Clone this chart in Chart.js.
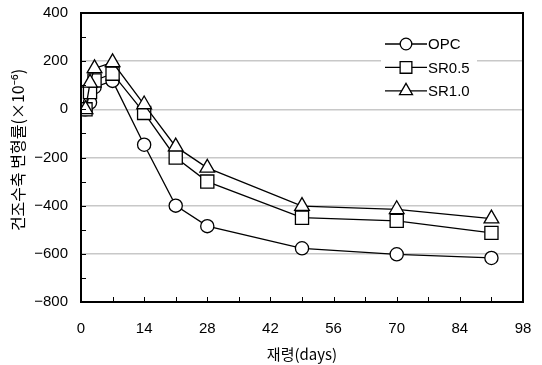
<!DOCTYPE html>
<html>
<head>
<meta charset="utf-8">
<script src="https://cdn.jsdelivr.net/npm/chart.js@4/dist/chart.umd.min.js"></script>
<style>
  html, body { margin: 0; padding: 0; background: #fff; }
  #wrap { width: 542px; height: 365px; }
</style>
</head>
<body>
<div id="wrap"><canvas id="c" width="542" height="365"></canvas></div>
<script>
// -------- Data --------
const days = [1, 2, 3, 7, 14, 21, 28, 49, 70, 91];
const opc = [0, 28, 92, 118, -147, -400, -485, -577, -602, -617];
const sr05 = [0, 72, 120, 148, -15, -200, -300, -450, -463, -513];
const sr10 = [0, 110, 170, 195, 20, -155, -243, -402, -415, -454];
const seriesNames = ['OPC', 'SR0.5', 'SR1.0'];
const yTitle = '건조수축 변형률(×10⁻⁶)';
const xTitle = '재령(days)';

const NUM_FONT = '"Liberation Sans", Arial, sans-serif';
const KR_FONT = '"Noto Sans CJK KR", "Noto Sans", sans-serif';

function fmtNum(v) { return v < 0 ? '\u2212' + Math.abs(v) : String(v); }
function pts(values) { return days.map((d, i) => ({ x: d, y: values[i] })); }

function makeDataset(label, values, style, radius, order) {
  return {
    label,
    data: pts(values),
    borderColor: '#000',
    borderWidth: 1.3,
    backgroundColor: '#fff',
    pointStyle: style,
    pointRadius: radius,
    pointBorderWidth: 1.3,
    pointBackgroundColor: '#fff',
    pointBorderColor: '#000',
    tension: 0,
    order,
  };
}

// -------- Plugins --------
const framePlugin = {
  id: 'frame',
  afterDraw(chart) {
    const { ctx, chartArea: a, scales } = chart;
    ctx.save();
    ctx.strokeStyle = '#000';
    ctx.lineWidth = 1;
    // inward ticks on y
    scales.y.ticks.forEach(t => {
      const y = Math.round(scales.y.getPixelForValue(t.value)) + 0.5;
      ctx.beginPath(); ctx.moveTo(a.left, y); ctx.lineTo(a.left + 5, y); ctx.stroke();
    });
    // inward ticks on x
    scales.x.ticks.forEach(t => {
      const x = Math.round(scales.x.getPixelForValue(t.value)) + 0.5;
      ctx.beginPath(); ctx.moveTo(x, a.bottom); ctx.lineTo(x, a.bottom - 5); ctx.stroke();
    });
    ctx.lineWidth = 2;
    ctx.strokeRect(a.left, a.top, a.right - a.left, a.bottom - a.top);

    // y axis title (placed by hand, sits a bit above the plot centre)
    ctx.translate(18, 150);
    ctx.rotate(-Math.PI / 2);
    ctx.fillStyle = '#000';
    ctx.font = '16px ' + KR_FONT;
    ctx.textAlign = 'center';
    ctx.textBaseline = 'middle';
    ctx.fillText(yTitle, 0, 0);
    ctx.restore();
  }
};

const legendPlugin = {
  id: 'lineLegend',
  afterDatasetsDraw(chart) {
    const ctx = chart.ctx;
    const a = chart.chartArea;
    const x0 = a.right - 138, y0 = a.top + 31;
    ctx.save();
    ctx.fillStyle = '#fff';
    ctx.fillRect(x0 - 4, y0 - 15, 96, 71);
    const legendRadius = { circle: 5.8, rect: 8.3, triangle: 7.5 };
    chart.data.datasets.forEach((ds, i) => {
      const y = y0 + i * 23.4;
      ctx.strokeStyle = '#000';
      ctx.lineWidth = 1.3;
      ctx.beginPath(); ctx.moveTo(x0, y); ctx.lineTo(x0 + 42, y); ctx.stroke();
      ctx.fillStyle = '#fff';
      Chart.helpers.drawPoint(ctx, {
        pointStyle: ds.pointStyle, radius: legendRadius[ds.pointStyle],
        rotation: 0, borderWidth: 1.3
      }, x0 + 21, y);
      ctx.fillStyle = '#000';
      ctx.font = '15px ' + NUM_FONT;
      ctx.textBaseline = 'middle';
      ctx.textAlign = 'left';
      ctx.fillText(ds.label, x0 + 43, y + 1);
    });
    ctx.restore();
  }
};

// -------- Chart --------
new Chart(document.getElementById('c'), {
  type: 'line',
  data: {
    datasets: [
      makeDataset(seriesNames[0], opc, 'circle', 6.6, 3),
      makeDataset(seriesNames[1], sr05, 'rect', 9.3, 2),
      makeDataset(seriesNames[2], sr10, 'triangle', 8.5, 1),
    ]
  },
  options: {
    responsive: false,
    animation: false,
    layout: { autoPadding: false, padding: { top: 13, right: 19, left: 0, bottom: 0 } },
    plugins: {
      legend: { display: false },
      tooltip: { enabled: false },
    },
    scales: {
      x: {
        type: 'linear',
        min: 0, max: 98,
        // fixed box, and no extra label padding pushed into the layout
        afterFit: s => { s.height = 63; s.paddingLeft = 0; s.paddingRight = 0; },
        grid: { display: false, drawTicks: false },
        border: { display: false },
        ticks: {
          stepSize: 7,
          padding: 18,
          color: '#000',
          maxRotation: 0,
          autoSkip: false,
          font: { family: NUM_FONT, size: 15 },
          callback: v => (v % 14 === 0 ? String(v) : ''),
        },
        title: {
          display: true,
          text: xTitle,
          color: '#000',
          font: { family: KR_FONT, size: 15 },
          padding: { top: 0, bottom: 2 },
        },
      },
      y: {
        min: -800, max: 400,
        afterFit: s => { s.width = 81; s.paddingTop = 0; s.paddingBottom = 0; },
        grid: {
          drawTicks: false,
          lineWidth: 1.5,
          color: c => {
            const v = c.tick ? c.tick.value : 0;
            return (v % 200 === 0 && v > -800 && v < 400) ? '#c8c8c8' : 'rgba(0,0,0,0)';
          },
        },
        border: { display: false },
        ticks: {
          stepSize: 100,
          padding: 13,
          color: '#000',
          autoSkip: false,
          font: { family: NUM_FONT, size: 15 },
          callback: v => (v % 200 === 0 ? fmtNum(v) : ''),
        },
      },
    },
  },
  plugins: [legendPlugin, framePlugin],
});
</script>
</body>
</html>
